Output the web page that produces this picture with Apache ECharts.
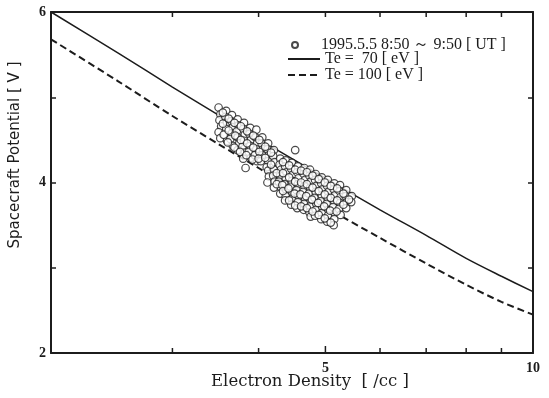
<!DOCTYPE html>
<html><head><meta charset="utf-8">
<script src="https://cdn.jsdelivr.net/npm/echarts@6/dist/echarts.min.js"></script>
<style>html,body{margin:0;padding:0;background:#fff}#c{width:549px;height:398px}</style>
</head><body><div id="c"></div>
<script>
// ---- data ----
const lineDensity    = [2, 2.5, 3, 3.5, 4, 5, 6, 7, 8, 9, 10];
const potentialTe70  = [6.00, 5.52, 5.12, 4.79, 4.51, 4.05, 3.68, 3.38, 3.11, 2.90, 2.72];
const potentialTe100 = [5.68, 5.19, 4.78, 4.45, 4.17, 3.71, 3.35, 3.05, 2.80, 2.60, 2.45];
const observed = [
 [3.50,4.88],[3.52,4.80],[3.51,4.73],[3.53,4.66],[3.50,4.59],[3.52,4.52],
 [3.59,4.84],[3.58,4.77],[3.60,4.70],[3.59,4.63],[3.57,4.56],[3.60,4.49],
 [3.66,4.79],[3.65,4.72],[3.67,4.65],[3.66,4.58],[3.64,4.51],[3.67,4.43],
 [3.73,4.74],[3.74,4.67],[3.72,4.60],[3.73,4.53],[3.75,4.46],[3.73,4.38],
 [3.81,4.70],[3.80,4.63],[3.82,4.56],[3.81,4.49],[3.79,4.42],[3.82,4.35],[3.80,4.28],
 [3.89,4.64],[3.88,4.57],[3.90,4.50],[3.89,4.43],[3.87,4.36],[3.90,4.29],
 [3.97,4.62],[3.96,4.53],[3.98,4.46],[3.97,4.39],[3.95,4.32],[3.98,4.25],
 [4.05,4.53],[4.04,4.46],[4.06,4.39],[4.05,4.32],[4.03,4.25],
 [4.13,4.46],[4.12,4.39],[4.14,4.32],[4.13,4.25],[4.11,4.18],
 [4.21,4.38],[4.20,4.31],[4.22,4.24],
 [3.83,4.17],[4.52,4.38],
 [4.13,4.14],[4.14,4.07],[4.12,4.00],
 [4.21,4.15],[4.20,4.08],[4.22,4.01],[4.21,3.94],
 [4.30,4.28],[4.29,4.21],[4.31,4.15],[4.30,4.08],[4.28,4.01],[4.31,3.94],[4.30,3.87],
 [4.38,4.26],[4.37,4.19],[4.39,4.12],[4.38,4.05],[4.36,3.98],[4.39,3.91],[4.38,3.84],[4.37,3.79],
 [4.47,4.23],[4.46,4.16],[4.48,4.09],[4.47,4.02],[4.45,3.95],[4.48,3.88],[4.47,3.81],[4.46,3.74],
 [4.56,4.19],[4.55,4.12],[4.57,4.05],[4.56,3.98],[4.54,3.91],[4.57,3.84],[4.56,3.77],[4.55,3.70],
 [4.66,4.17],[4.65,4.10],[4.67,4.03],[4.66,3.96],[4.64,3.89],[4.67,3.82],[4.66,3.75],[4.65,3.68],
 [4.75,4.15],[4.74,4.08],[4.76,4.01],[4.75,3.94],[4.73,3.87],[4.76,3.79],[4.75,3.72],[4.74,3.65],[4.76,3.60],
 [4.84,4.10],[4.83,4.03],[4.85,3.96],[4.84,3.89],[4.82,3.82],[4.85,3.75],[4.84,3.68],[4.83,3.61],
 [4.94,4.06],[4.93,3.99],[4.95,3.92],[4.94,3.85],[4.92,3.78],[4.95,3.71],[4.94,3.64],[4.93,3.57],
 [5.04,4.03],[5.03,3.96],[5.05,3.89],[5.04,3.82],[5.02,3.75],[5.05,3.68],[5.04,3.61],[5.03,3.54],
 [5.15,3.99],[5.14,3.92],[5.16,3.85],[5.15,3.78],[5.13,3.71],[5.16,3.64],[5.15,3.57],[5.14,3.50],
 [5.25,3.97],[5.24,3.90],[5.26,3.83],[5.25,3.76],[5.23,3.69],[5.26,3.62],
 [5.36,3.91],[5.35,3.84],[5.37,3.77],[5.36,3.70],
 [5.46,3.84],[5.45,3.77],
 [3.55,4.82],[3.55,4.69],[3.56,4.56],
 [3.62,4.75],[3.62,4.61],[3.61,4.47],
 [3.69,4.70],[3.70,4.55],[3.69,4.41],
 [3.77,4.66],[3.77,4.50],[3.76,4.36],
 [3.85,4.60],[3.85,4.46],[3.84,4.32],
 [3.93,4.55],[3.93,4.41],[3.92,4.27],
 [4.01,4.50],[4.01,4.36],[4.00,4.28],
 [4.09,4.42],[4.09,4.29],
 [4.17,4.35],[4.17,4.21],
 [4.25,4.11],[4.25,3.98],
 [4.34,4.24],[4.34,4.11],[4.33,3.97],[4.34,3.90],
 [4.43,4.20],[4.43,4.06],[4.42,3.93],[4.43,3.79],
 [4.52,4.15],[4.52,4.01],[4.51,3.87],[4.52,3.73],
 [4.61,4.14],[4.61,4.00],[4.60,3.86],[4.61,3.72],
 [4.70,4.12],[4.70,3.98],[4.69,3.84],[4.70,3.70],
 [4.79,4.08],[4.79,3.94],[4.78,3.80],[4.79,3.66],
 [4.89,4.04],[4.89,3.90],[4.88,3.76],[4.89,3.62],
 [4.99,4.00],[4.99,3.86],[4.98,3.72],[4.99,3.58],
 [5.09,3.96],[5.09,3.82],[5.08,3.67],[5.09,3.53],
 [5.20,3.93],[5.20,3.79],[5.19,3.66],
 [5.31,3.87],[5.31,3.74],
 [5.41,3.80]
];
const xTickValues  = [3, 4, 5, 6, 7, 8, 9];
const xLabelValues = [5, 10];
const yLabelValues = [2, 4, 6];
const xRange = [2, 10];
const yRange = [2, 6];
const seriesNames = ['1995.5.5 8:50 ～ 9:50 [ UT ]', 'Te =  70 [ eV ]', 'Te = 100 [ eV ]'];
const xTitle = 'Electron Density  [ /cc ]';
const yTitle = 'Spacecraft Potential [ V ]';

// ---- chart ----
const ink = '#1c1c1c';
const lg = Math.log10;
const serif = '"Liberation Serif", "Times New Roman", serif';
const chart = echarts.init(document.getElementById('c'), null, {renderer: 'canvas'});
const lx = [lg(xRange[0]), lg(xRange[1])];

const frameAxis = (pos) => ({
  type: 'value', position: pos, min: lx[0], max: lx[1],
  axisLine: {show: true, onZero: false, lineStyle: {color: ink, width: 2}},
  axisTick: {show: false}, axisLabel: {show: false}, splitLine: {show: false}
});

const option = {
  animation: false,
  backgroundColor: '#ffffff',
  grid: {left: 51, right: 16, top: 12, bottom: 45},
  xAxis: [
    {type: 'log', logBase: 10, min: xRange[0], max: xRange[1], show: false},
    frameAxis('bottom'),
    {type: 'value', position: 'bottom', min: lx[0], max: lx[1],
     axisLine: {show: false, onZero: false}, axisTick: {show: false},
     axisLabel: {show: true, customValues: xLabelValues.map(lg), margin: 8,
       formatter: v => String(Math.round(Math.pow(10, v))),
       color: ink, fontSize: 14, fontFamily: serif, fontWeight: 'bold'},
     splitLine: {show: false}},
    frameAxis('top')
  ],
  yAxis: [
    {type: 'value', position: 'left', min: yRange[0], max: yRange[1], interval: 1,
     axisLine: {show: true, onZero: false, lineStyle: {color: ink, width: 2}},
     axisTick: {show: true, inside: true, length: 5, lineStyle: {color: ink, width: 1.5}},
     axisLabel: {show: true, margin: 5, color: ink, fontSize: 14, fontFamily: serif, fontWeight: 'bold',
       formatter: v => (yLabelValues.includes(v) ? String(v) : '')},
     splitLine: {show: false}},
    {type: 'value', position: 'right', min: yRange[0], max: yRange[1], interval: 1,
     axisLine: {show: true, onZero: false, lineStyle: {color: ink, width: 2}},
     axisTick: {show: true, inside: true, length: 5, lineStyle: {color: ink, width: 1.5}},
     axisLabel: {show: false}, splitLine: {show: false}}
  ],
  legend: [
    {data: [seriesNames[0]], orient: 'vertical', left: 286, top: 32,
     itemWidth: 12, itemHeight: 6, itemGap: 0,
     textStyle: {color: ink, fontSize: 16, fontFamily: serif, lineHeight: 14, padding: [0, 0, 0, 15]}},
    {data: [seriesNames[1], seriesNames[2]], orient: 'vertical', left: 282, top: 46,
     itemWidth: 32, itemHeight: 8, itemGap: 0,
     itemStyle: {opacity: 0},
     textStyle: {color: ink, fontSize: 16, fontFamily: serif, lineHeight: 14}}
  ],
  graphic: [
    {type: 'text', x: 310, y: 382,
     style: {text: xTitle, font: '16.5px "DejaVu Serif", serif', fill: ink, align: 'center', verticalAlign: 'middle'}},
    {type: 'text', x: 15, y: 155, rotation: Math.PI / 2,
     style: {text: yTitle, font: '15px "DejaVu Sans", sans-serif', fill: ink, align: 'center', verticalAlign: 'middle'}}
  ],
  series: [
    {name: seriesNames[0], type: 'scatter', xAxisIndex: 0, yAxisIndex: 0, z: 5,
     symbol: 'circle', symbolSize: 7.5, data: observed,
     itemStyle: {color: '#ffffff', borderColor: ink, borderWidth: 1.2}},
    {name: seriesNames[1], type: 'line', xAxisIndex: 0, yAxisIndex: 0, z: 2,
     symbol: 'none', showSymbol: false, smooth: 0.3,
     data: lineDensity.map((d, i) => [d, potentialTe70[i]]),
     lineStyle: {color: ink, width: 1.5, type: 'solid'}, itemStyle: {color: ink}},
    {name: seriesNames[2], type: 'line', xAxisIndex: 0, yAxisIndex: 0, z: 2,
     symbol: 'none', showSymbol: false, smooth: 0.3,
     data: lineDensity.map((d, i) => [d, potentialTe100[i]]),
     lineStyle: {color: ink, width: 2, type: [7, 4]}, itemStyle: {color: ink}},
    {name: 'density ticks', type: 'custom', coordinateSystem: 'cartesian2d',
     xAxisIndex: 0, yAxisIndex: 0, z: 10, silent: true, clip: false,
     encode: {x: 0, y: 1},
     data: xTickValues.map(v => [v, yRange[0]]),
     renderItem: function (params, api) {
       const v = api.value(0);
       const b = api.coord([v, yRange[0]]);
       const t = api.coord([v, yRange[1]]);
       const len = xLabelValues.indexOf(v) >= 0 ? 7 : 5;
       return {type: 'group', children: [
         {type: 'line', shape: {x1: b[0], y1: b[1], x2: b[0], y2: b[1] - len},
          style: {stroke: ink, lineWidth: 1.5, fill: null}},
         {type: 'line', shape: {x1: t[0], y1: t[1], x2: t[0], y2: t[1] + 5},
          style: {stroke: ink, lineWidth: 1.5, fill: null}}
       ]};
     }}
  ]
};
chart.setOption(option);
</script></body></html>
